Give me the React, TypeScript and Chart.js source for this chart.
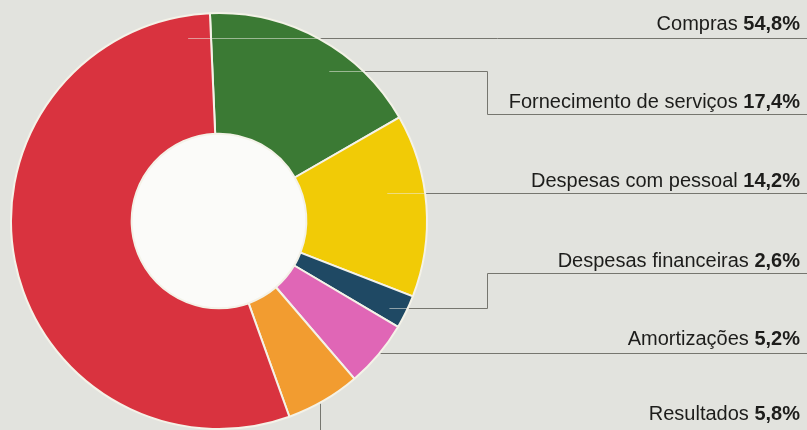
import { useEffect, useRef } from 'react';
import { Chart, ArcElement, DoughnutController } from 'chart.js';

Chart.register(ArcElement, DoughnutController);

// ---- data (clockwise from the top) ----
const categories = [
  'Fornecimento de serviços',
  'Despesas com pessoal',
  'Despesas financeiras',
  'Amortizações',
  'Resultados',
  'Compras',
];
const values = [17.4, 14.2, 2.6, 5.2, 5.8, 54.8];
const colors = ['#3b7a34', '#f1cb06', '#1f4964', '#e066b6', '#f29c30', '#d9333f'];

// order of the text rows on the right (indices into categories)
const rowOrder = [5, 0, 1, 2, 3, 4];

// ---- layout / style ----
const W = 807;
const H = 430;
const rowBaselines = [30, 108, 187, 267, 345, 420];
const textRight = 800;
const bracketX = 487.5;
// leader anchor inside each slice: t = fraction along the slice, rf = fraction of outer radius
const leaders = [
  { t: 0.62, rf: 0.895, kind: 'b' },
  { t: 0.40, rf: 0.82, kind: 'h' },
  { t: 0.62, rf: 0.92, kind: 'b' },
  { t: 0.46, rf: 1.0, kind: 'h' },
  { t: 0.56, rf: 1.0, kind: 'v' },
  { t: 0.964, rf: 0.89, kind: 'h' },
];

const fmt = (v: number) => v.toFixed(1).replace('.', ',') + '%';

const sideLabels = {
  id: 'sideLabels',
  beforeDatasetsDraw(chart: any) {
    const meta = chart.getDatasetMeta(0);
    const a0: any = meta.data[0];
    if (!a0) return;
    const ctx = chart.ctx;
    ctx.save();
    ctx.beginPath();
    ctx.arc(a0.x, a0.y, a0.innerRadius, 0, Math.PI * 2);
    ctx.fillStyle = '#fbfbf9';
    ctx.fill();
    ctx.restore();
  },
  afterDatasetsDraw(chart: any) {
    const ctx = chart.ctx;
    const meta = chart.getDatasetMeta(0);
    const a0: any = meta.data[0];
    if (!a0) return;
    const cx = a0.x;
    const cy = a0.y;
    const R = a0.outerRadius;

    const path = new Path2D();
    rowOrder.forEach((ci, row) => {
      const arc: any = meta.data[ci];
      const L = leaders[ci];
      const ang = arc.startAngle + L.t * (arc.endAngle - arc.startAngle);
      const px = cx + R * L.rf * Math.cos(ang);
      const py = Math.round(cy + R * L.rf * Math.sin(ang)) + 0.5;
      const ly = rowBaselines[row] + 6.5;
      if (L.kind === 'h') {
        path.moveTo(px, py);
        path.lineTo(W, py);
      } else if (L.kind === 'b') {
        path.moveTo(px, py);
        path.lineTo(bracketX, py);
        path.lineTo(bracketX, ly);
        path.lineTo(W, ly);
      } else {
        const vx = Math.round(px) + 0.5;
        path.moveTo(vx, py);
        path.lineTo(vx, H + 2);
      }
    });

    // part of the leaders outside the ring: grey
    ctx.save();
    const outside = new Path2D();
    outside.rect(0, 0, W, H);
    outside.arc(cx, cy, R + 1, 0, Math.PI * 2);
    ctx.clip(outside, 'evenodd');
    ctx.strokeStyle = '#76766f';
    ctx.lineWidth = 1;
    ctx.stroke(path);
    ctx.restore();

    // part on top of the slices: pale
    ctx.save();
    const inside = new Path2D();
    inside.arc(cx, cy, R + 1, 0, Math.PI * 2);
    ctx.clip(inside);
    ctx.strokeStyle = 'rgba(235,235,225,0.55)';
    ctx.lineWidth = 1;
    ctx.stroke(path);
    ctx.restore();

    // text rows
    ctx.save();
    ctx.fillStyle = '#1d1d1b';
    ctx.textBaseline = 'alphabetic';
    ctx.textAlign = 'right';
    rowOrder.forEach((ci, row) => {
      const y = rowBaselines[row];
      const pct = fmt(values[ci]);
      ctx.font = 'bold 20px "Liberation Sans", Arial, sans-serif';
      const pw = ctx.measureText(pct).width;
      ctx.fillText(pct, textRight, y);
      ctx.font = '20px "Liberation Sans", Arial, sans-serif';
      ctx.fillText(categories[ci] + ' ', textRight - pw, y);
    });
    ctx.restore();
  },
};

export default function App() {
  const ref = useRef<HTMLCanvasElement>(null);

  useEffect(() => {
    document.body.style.margin = '0';
    const canvas = ref.current;
    if (!canvas) return;
    const chart = new Chart(canvas, {
      type: 'doughnut',
      data: {
        labels: categories,
        datasets: [
          {
            data: values,
            backgroundColor: colors,
            borderColor: '#f4f2e8',
            borderWidth: 2,
          },
        ],
      },
      options: {
        animation: false,
        responsive: false,
        events: [],
        rotation: -2.5,
        cutout: '42%',
        layout: { padding: { left: 10, top: 12, right: 379, bottom: 0 } },
        plugins: { legend: { display: false }, tooltip: { enabled: false } },
      },
      plugins: [sideLabels],
    });
    return () => chart.destroy();
  }, []);

  return (
    <div style={{ width: W, height: H, background: '#e2e3de', overflow: 'hidden' }}>
      <canvas ref={ref} width={W} height={H} style={{ display: 'block' }} />
    </div>
  );
}
